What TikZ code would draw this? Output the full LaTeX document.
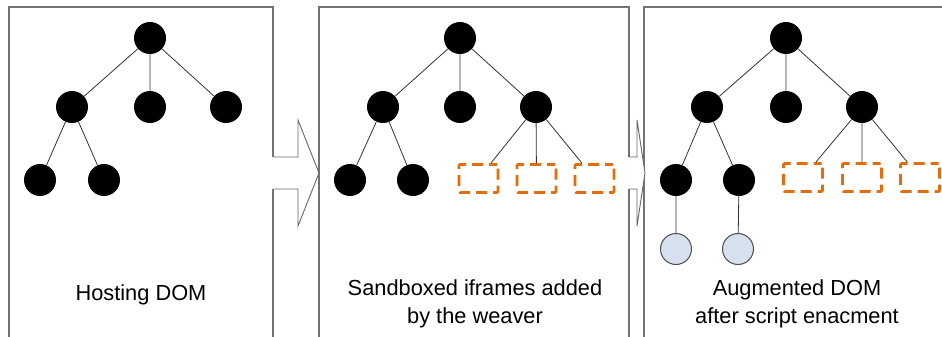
\documentclass[tikz,border=0pt]{standalone}
\usepackage{fontspec}
\setmainfont{Liberation Sans}
\begin{document}
\begin{tikzpicture}[x=1pt,y=-1pt,
  dom/.style={circle,fill=black,inner sep=0pt,minimum size=32pt},
  frame/.style={draw=ifrorange,line width=2.8pt,dash pattern=on 11pt off 6pt,dash phase=3pt,
    rounded corners=1pt,inner sep=0pt,minimum width=39pt,minimum height=28pt},
  script/.style={circle,draw=black!70,line width=1pt,fill=scriptblue,inner sep=0pt,minimum size=31pt},
  edge/.style={draw=black!80,line width=0.8pt},
  panel/.style={draw=black!55,line width=1.4pt},
  flow/.style={draw=black!60,line width=0.9pt,fill=white},
  caption/.style={font=\fontsize{21.8}{28}\selectfont,align=center,inner sep=0pt}]
\definecolor{ifrorange}{RGB}{228,108,10}
\definecolor{scriptblue}{RGB}{214,224,238}
\useasboundingbox (0,0) rectangle (942,337);

% panel outlines
\draw[panel] (9,340) -- (9,7) -- (273,7) -- (273,340);
\draw[panel] (319,340) -- (319,7) -- (629,7) -- (629,340);
\draw[panel] (644,340) -- (644,7) -- (945,7);

% block arrows between panels
\fill[white] (271,157) rectangle (299,189);
\draw[flow] (273,157) -- (298,157) -- (298,120) -- (319,173) -- (298,226) -- (298,189) -- (273,189);
\fill[white] (627,157) rectangle (638,189);
\draw[flow] (629,157) -- (637,157) -- (637,120) -- (645,173) -- (637,226) -- (637,189) -- (629,189);

% first panel: hosting DOM
\node[dom] (a0) at (150,38) {};
\node[dom] (a1) at (72,107) {};
\node[dom] (a2) at (150,107) {};
\node[dom] (a3) at (226,107) {};
\node[dom] (a4) at (40,180) {};
\node[dom] (a5) at (104,180) {};
\path[edge] (a0) -- (a1) (a0) -- (a2) (a0) -- (a3) (a1) -- (a4) (a1) -- (a5);
\node[caption] (ca) at (141,295) {Hosting DOM};

% second panel: iframes added
\node[dom] (b0) at (460,38) {};
\node[dom] (b1) at (383,107) {};
\node[dom] (b2) at (460,107) {};
\node[dom] (b3) at (536,107) {};
\node[dom] (b4) at (350,180) {};
\node[dom] (b5) at (413,180) {};
\node[frame] (b6) at (478.5,178.5) {};
\node[frame] (b7) at (536.5,178.5) {};
\node[frame] (b8) at (594.5,178.5) {};
\path[edge] (b0) -- (b1) (b0) -- (b2) (b0) -- (b3) (b1) -- (b4) (b1) -- (b5)
  (b3) -- (b6) (b3) -- (b7) (b3) -- (b8);
\node[caption] (cb) at (475,304) {Sandboxed iframes added\\by the weaver};

% third panel: augmented DOM
\node[dom] (c0) at (786,38) {};
\node[dom] (c1) at (707,107) {};
\node[dom] (c2) at (786,107) {};
\node[dom] (c3) at (862,107) {};
\node[dom] (c4) at (676,180) {};
\node[dom] (c5) at (739,180) {};
\node[frame] (c6) at (803,177.5) {};
\node[frame] (c7) at (862,177.5) {};
\node[frame] (c8) at (920,177.5) {};
\node[script] (c9) at (676,249) {};
\node[script] (c10) at (738,249) {};
\path[edge] (c0) -- (c1) (c0) -- (c2) (c0) -- (c3) (c1) -- (c4) (c1) -- (c5)
  (c3) -- (c6) (c3) -- (c7) (c3) -- (c8) (c4) -- (c9) (c5) -- (c10);
\node[caption] (cc) at (797,304) {Augmented DOM\\after script enacment};
\end{tikzpicture}
\end{document}
